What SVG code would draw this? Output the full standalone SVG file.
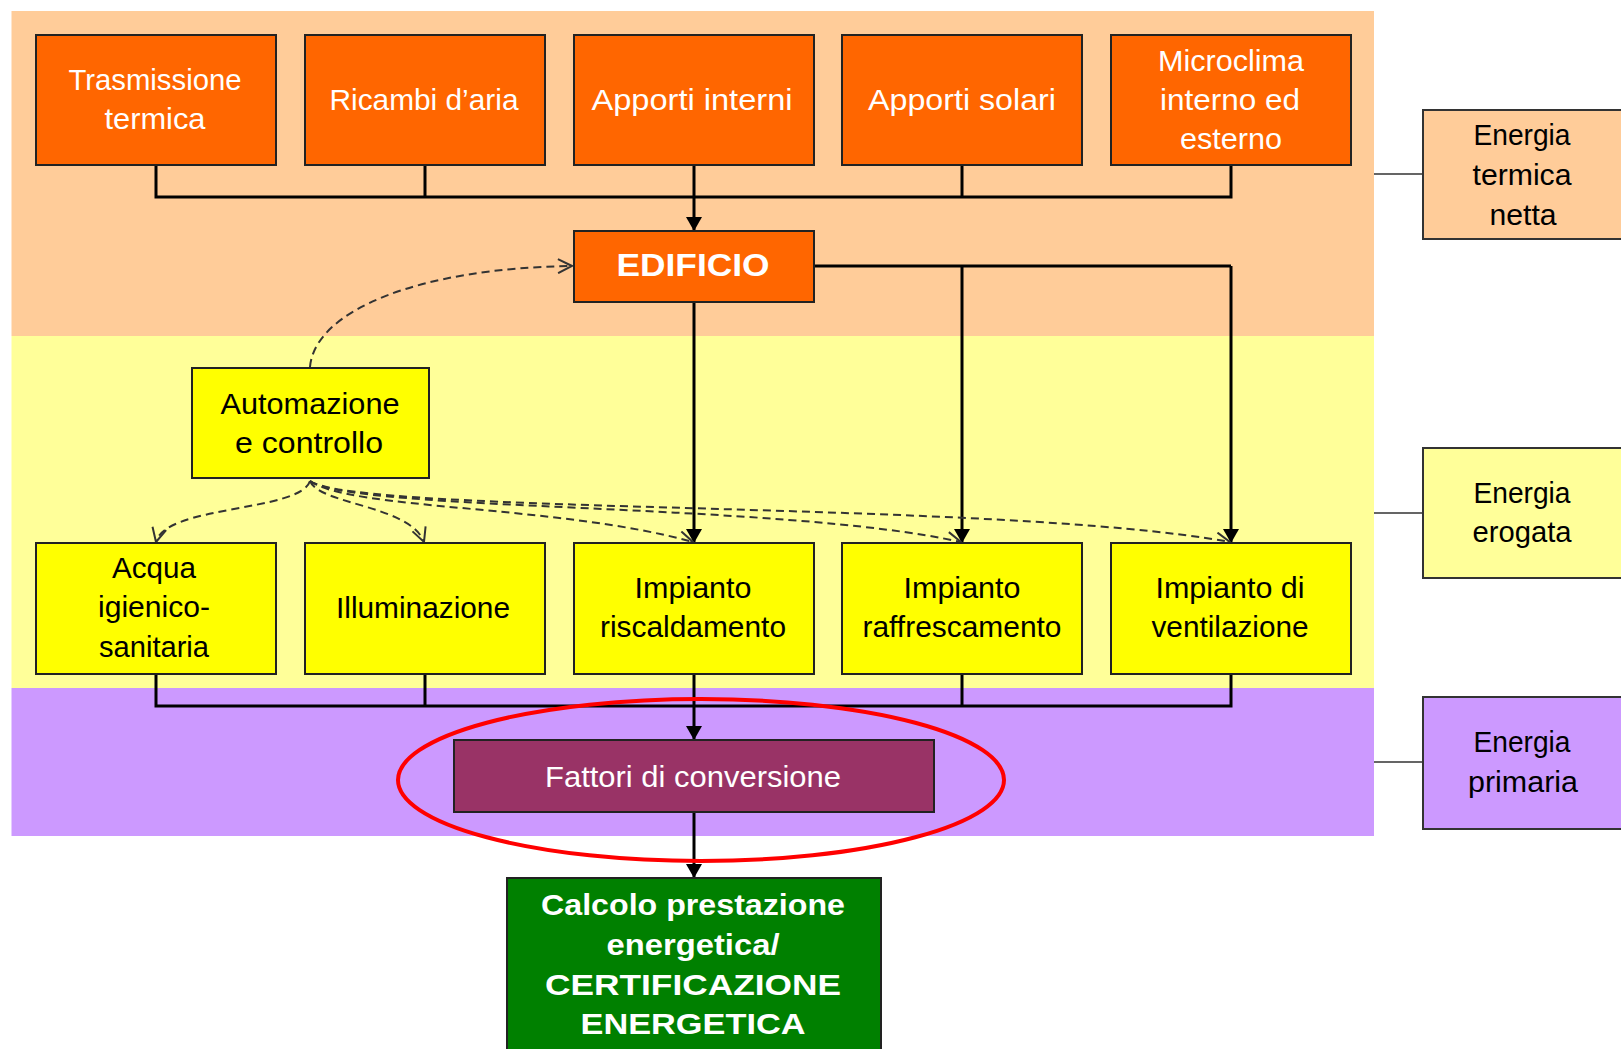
<svg xmlns="http://www.w3.org/2000/svg" width="1621" height="1049" viewBox="0 0 1621 1049">
<style>
.box{stroke:#222;stroke-width:2}
.or{fill:#FF6600}
.ye{fill:#FFFF00}
.t{font-family:"Liberation Sans",Arial,sans-serif;font-size:29px;text-anchor:middle}
.w{fill:#fff}
.k{fill:#000}
.b{font-weight:bold}
.lab{stroke:#333;stroke-width:2}
.ln{fill:none;stroke:#000;stroke-width:3}
.da{fill:none;stroke:#333;stroke-width:2;stroke-dasharray:8 5}
.thin{stroke:#333;stroke-width:1.5}
</style>
<defs>
<marker id="ah" viewBox="0 0 14 16" refX="14" refY="8" markerWidth="14" markerHeight="16" markerUnits="userSpaceOnUse" orient="auto">
<path d="M0,0 L14,8 L0,16 z" fill="#000"/>
</marker>
<marker id="av" viewBox="0 0 16 16" refX="15" refY="8" markerWidth="16" markerHeight="16" markerUnits="userSpaceOnUse" orient="auto">
<path d="M1,1 L15,8 L1,15" fill="none" stroke="#333" stroke-width="2"/>
</marker>
</defs>
<rect width="1621" height="1049" fill="#fff"/>
<g id="bands">
<rect x="11.5" y="11" width="1362.5" height="325" fill="#FFCC99"/>
<rect x="11.5" y="336" width="1362.5" height="352" fill="#FFFF99"/>
<rect x="11.5" y="688" width="1362.5" height="148" fill="#CC99FF"/>
</g>
<g id="connectors">
<path class="ln" d="M156,165 V197 H1231 V165 M425,165 V197 M962,165 V197"/>
<path class="ln" d="M694,165 V231" marker-end="url(#ah)"/>
<path class="ln" d="M813,266 H1231"/>
<path class="ln" d="M962,266 V543" marker-end="url(#ah)"/>
<path class="ln" d="M1231,266 V543" marker-end="url(#ah)"/>
<path class="ln" d="M694,302 V543" marker-end="url(#ah)"/>
<path class="ln" d="M156,674 V706 H1231 V674 M425,674 V706 M962,674 V706"/>
<path class="ln" d="M694,674 V740" marker-end="url(#ah)"/>
<path class="ln" d="M694,812 V878" marker-end="url(#ah)"/>
<path class="da" d="M310,367 C315,310 420,268 572,266" marker-end="url(#av)"/>
<path class="da" d="M310,481 C300,512 165,505 156,542" marker-end="url(#av)"/>
<path class="da" d="M310,481 C320,505 410,505 424,542" marker-end="url(#av)"/>
<path class="da" d="M310,481 C350,510 560,505 693,542" marker-end="url(#av)"/>
<path class="da" d="M310,481 C355,512 780,502 961,542" marker-end="url(#av)"/>
<path class="da" d="M310,481 C360,515 1000,500 1230,542" marker-end="url(#av)"/>
<path class="thin" d="M1374,174 H1423 M1374,513 H1423 M1374,762 H1423"/>
</g>
<g id="trasmissione">
<rect class="box or" x="36" y="35" width="240" height="130"/>
<text class="t w" x="155" y="90" textLength="173" lengthAdjust="spacingAndGlyphs">Trasmissione</text>
<text class="t w" x="155" y="129" textLength="101" lengthAdjust="spacingAndGlyphs">termica</text>
</g>
<g id="ricambi">
<rect class="box or" x="305" y="35" width="240" height="130"/>
<text class="t w" x="424" y="110" textLength="189" lengthAdjust="spacingAndGlyphs">Ricambi d’aria</text>
</g>
<g id="apporti-interni">
<rect class="box or" x="574" y="35" width="240" height="130"/>
<text class="t w" x="692" y="110" textLength="201" lengthAdjust="spacingAndGlyphs">Apporti interni</text>
</g>
<g id="apporti-solari">
<rect class="box or" x="842" y="35" width="240" height="130"/>
<text class="t w" x="962" y="110" textLength="188" lengthAdjust="spacingAndGlyphs">Apporti solari</text>
</g>
<g id="microclima">
<rect class="box or" x="1111" y="35" width="240" height="130"/>
<text class="t w" x="1231" y="71" textLength="146" lengthAdjust="spacingAndGlyphs">Microclima</text>
<text class="t w" x="1230" y="110" textLength="140" lengthAdjust="spacingAndGlyphs">interno ed</text>
<text class="t w" x="1231" y="149" textLength="102" lengthAdjust="spacingAndGlyphs">esterno</text>
</g>
<g id="edificio">
<rect class="box or" x="574" y="231" width="240" height="71"/>
<text class="t w b" x="693" y="276" style="font-size:31px" textLength="153" lengthAdjust="spacingAndGlyphs">EDIFICIO</text>
</g>
<g id="automazione">
<rect class="box ye" x="192" y="368" width="237" height="110"/>
<text class="t k" x="310" y="414" textLength="179" lengthAdjust="spacingAndGlyphs">Automazione</text>
<text class="t k" x="309" y="453" textLength="148" lengthAdjust="spacingAndGlyphs">e controllo</text>
</g>
<g id="acqua">
<rect class="box ye" x="36" y="543" width="240" height="131"/>
<text class="t k" x="154" y="578" textLength="84" lengthAdjust="spacingAndGlyphs">Acqua</text>
<text class="t k" x="154" y="617" textLength="112" lengthAdjust="spacingAndGlyphs">igienico-</text>
<text class="t k" x="154" y="657" textLength="110" lengthAdjust="spacingAndGlyphs">sanitaria</text>
</g>
<g id="illuminazione">
<rect class="box ye" x="305" y="543" width="240" height="131"/>
<text class="t k" x="423" y="618" textLength="174" lengthAdjust="spacingAndGlyphs">Illuminazione</text>
</g>
<g id="riscaldamento">
<rect class="box ye" x="574" y="543" width="240" height="131"/>
<text class="t k" x="693" y="598" textLength="117" lengthAdjust="spacingAndGlyphs">Impianto</text>
<text class="t k" x="693" y="637" textLength="186" lengthAdjust="spacingAndGlyphs">riscaldamento</text>
</g>
<g id="raffrescamento">
<rect class="box ye" x="842" y="543" width="240" height="131"/>
<text class="t k" x="962" y="598" textLength="117" lengthAdjust="spacingAndGlyphs">Impianto</text>
<text class="t k" x="962" y="637" textLength="199" lengthAdjust="spacingAndGlyphs">raffrescamento</text>
</g>
<g id="ventilazione">
<rect class="box ye" x="1111" y="543" width="240" height="131"/>
<text class="t k" x="1230" y="598" textLength="149" lengthAdjust="spacingAndGlyphs">Impianto di</text>
<text class="t k" x="1230" y="637" textLength="157" lengthAdjust="spacingAndGlyphs">ventilazione</text>
</g>
<g id="fattori">
<rect class="box" x="454" y="740" width="480" height="72" fill="#993366"/>
<text class="t w" x="693" y="787" textLength="296" lengthAdjust="spacingAndGlyphs">Fattori di conversione</text>
</g>
<ellipse id="highlight" cx="701" cy="780" rx="303" ry="81" fill="none" stroke="#FF0000" stroke-width="4"/>
<g id="certificazione">
<rect class="box" x="507" y="878" width="374" height="190" fill="#008000"/>
<text class="t w b" x="693" y="915" style="font-size:30px" textLength="304" lengthAdjust="spacingAndGlyphs">Calcolo prestazione</text>
<text class="t w b" x="693" y="955" style="font-size:30px" textLength="173" lengthAdjust="spacingAndGlyphs">energetica/</text>
<text class="t w b" x="693" y="995" style="font-size:30px" textLength="296" lengthAdjust="spacingAndGlyphs">CERTIFICAZIONE</text>
<text class="t w b" x="693" y="1034" style="font-size:30px" textLength="225" lengthAdjust="spacingAndGlyphs">ENERGETICA</text>
</g>
<g id="energia-termica">
<rect class="lab" x="1423" y="110" width="220" height="129" fill="#FFCC99"/>
<text class="t k" x="1522" y="145" textLength="97" lengthAdjust="spacingAndGlyphs">Energia</text>
<text class="t k" x="1522" y="185" textLength="99" lengthAdjust="spacingAndGlyphs">termica</text>
<text class="t k" x="1523" y="225" textLength="67" lengthAdjust="spacingAndGlyphs">netta</text>
</g>
<g id="energia-erogata">
<rect class="lab" x="1423" y="448" width="220" height="130" fill="#FFFF99"/>
<text class="t k" x="1522" y="503" textLength="97" lengthAdjust="spacingAndGlyphs">Energia</text>
<text class="t k" x="1522" y="542" textLength="99" lengthAdjust="spacingAndGlyphs">erogata</text>
</g>
<g id="energia-primaria">
<rect class="lab" x="1423" y="697" width="220" height="132" fill="#CC99FF"/>
<text class="t k" x="1522" y="752" textLength="97" lengthAdjust="spacingAndGlyphs">Energia</text>
<text class="t k" x="1523" y="792" textLength="110" lengthAdjust="spacingAndGlyphs">primaria</text>
</g>
</svg>
